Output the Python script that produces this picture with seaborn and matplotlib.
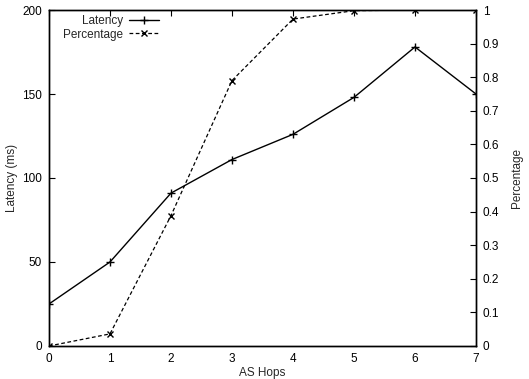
import matplotlib
matplotlib.use("Agg")
import matplotlib.pyplot as plt
import seaborn as sns
import pandas as pd

hops = [0, 1, 2, 3, 4, 5, 6, 7]
latency = [25, 50, 91, 111, 126, 148, 178, 150]
percentage = [0.0, 0.036, 0.388, 0.79, 0.973, 0.998, 1.0, 1.0]

sns.set_theme(style="white")
plt.rcParams['font.family'] = ['Liberation Sans', 'DejaVu Sans']

df = pd.DataFrame({"hops": hops, "latency": latency, "percentage": percentage})

fig = plt.figure(figsize=(5.29, 3.79), dpi=100)
ax = fig.add_axes([0.0926, 0.0871, 0.8072, 0.8865])
ax2 = ax.twinx()

sns.lineplot(data=df, x="hops", y="latency", ax=ax, color="black", lw=1.0,
             marker="+", markersize=5.5, markeredgewidth=1.0, markeredgecolor="black",
             label="Latency", legend=False)
sns.lineplot(data=df, x="hops", y="percentage", ax=ax2, color="black", lw=0.9,
             linestyle=(0, (3, 2)), marker="x", markersize=4.5, markeredgewidth=1.0,
             markeredgecolor="black", label="Percentage", legend=False)

ax.set_xlim(0, 7)
ax.set_ylim(0, 200)
ax2.set_ylim(0, 1)
ax.set_xticks(hops)
ax.set_yticks([0, 50, 100, 150, 200])
ax2.set_yticks([0, 0.1, 0.2, 0.3, 0.4, 0.5, 0.6, 0.7, 0.8, 0.9, 1])
ax2.set_yticklabels(["0", "0.1", "0.2", "0.3", "0.4", "0.5", "0.6", "0.7", "0.8", "0.9", "1"])

ax.set_xlabel("AS Hops", fontsize=8.5)
ax.set_ylabel("Latency (ms)", fontsize=8.5)
ax2.set_ylabel("Percentage", fontsize=8.5)
ax.xaxis.set_label_coords(0.5, -0.08)
ax.yaxis.set_label_coords(-0.087, 0.5)
ax2.yaxis.set_label_coords(1.096, 0.5)
ax.xaxis.label.set_va("center")
ax.yaxis.label.set_va("center")
ax2.yaxis.label.set_va("center")

for a in (ax, ax2):
    for s in a.spines.values():
        s.set_color("black")
        s.set_linewidth(1.0)
        s.set_visible(True)
ax.tick_params(axis="x", direction="in", length=4, width=0.8, top=True, labelsize=8.5, colors="black", pad=5)
ax.tick_params(axis="y", direction="in", length=4, width=0.8, left=True, right=False, labelsize=8.5, colors="black", pad=5)
ax2.tick_params(axis="y", direction="in", length=4, width=0.8, right=True, left=False, labelsize=8.5, colors="black", pad=5)

h1, l1 = ax.get_legend_handles_labels()
h2, l2 = ax2.get_legend_handles_labels()
leg = ax.legend(h1 + h2, l1 + l2, loc="upper left", bbox_to_anchor=(0.017, 1.005),
                markerfirst=False, frameon=False, fontsize=8.5, handlelength=2.5,
                handletextpad=0.5, labelspacing=0.1, borderaxespad=0.2)
leg._legend_box.align = "right"
for vp in leg._legend_box._children[-1]._children:
    for c in vp._children:
        c.align = "right"
    vp.align = "right"

fig.savefig("out.png", dpi=100)
